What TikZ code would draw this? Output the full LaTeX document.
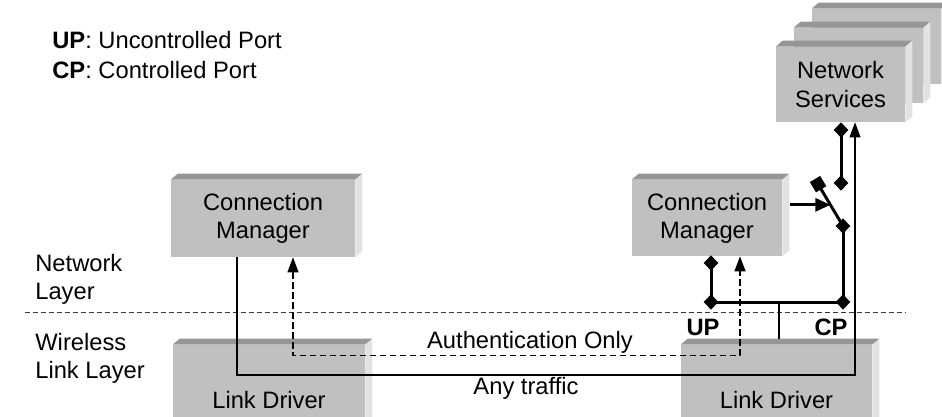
\documentclass[tikz,border=0pt]{standalone}
\usepackage{fontspec}
\setsansfont{Liberation Sans}
\usepackage{tikz}
\usetikzlibrary{arrows.meta, positioning, calc, shapes.geometric}
\definecolor{boxFace}{HTML}{C0C0C0}
\definecolor{boxTop}{HTML}{969696}
\definecolor{boxSide}{HTML}{E2E2E2}
\tikzset{
    box_gray/.style={
        rectangle, fill=boxFace, inner sep=0pt,
        align=center, font=\sffamily\fontsize{13.5}{16}\selectfont
    },
    lbl/.style={
        inner sep=0pt, align=left, font=\sffamily\fontsize{13.5}{16}\selectfont
    },
    port_line/.style={
        line width=1.7pt, draw=black
    },
    port_tip/.style={
        diamond, fill=black, inner sep=0pt, minimum width=0.3cm, minimum height=0.31cm
    },
    traffic_arrow/.style={
        -{Triangle[length=0.3cm, width=0.22cm]}, line width=0.6pt
    },
    auth_arrow/.style={
        {Triangle[length=0.3cm, width=0.22cm]}-{Triangle[length=0.3cm, width=0.22cm]},
        line width=0.7pt, dash pattern=on 0.13cm off 0.07cm
    },
    layer_line/.style={
        line width=0.5pt, draw=black!80, dash pattern=on 0.1cm off 0.06cm
    }
}
% top and right faces of a gray block
\newcommand{\bevel}[1]{%
    \fill[boxTop] (#1.north west) -- ++(7,-6) -- ($(#1.north east)+(7,-6)$) -- (#1.north east) -- cycle;
    \fill[boxSide] (#1.north east) -- ++(7,-6) -- ($(#1.south east)+(7,-6)$) -- (#1.south east) -- cycle;
}

\begin{document}
\begin{tikzpicture}[x=0.02cm, y=-0.02cm, >=Stealth]
    \useasboundingbox (0,0) rectangle (942,416);
    \clip (0,0) rectangle (942,416);

    % legend and layers
    \node[lbl, anchor=west] (legend) at (52,55) {\textbf{UP}: Uncontrolled Port\\[1pt]\textbf{CP}: Controlled Port};
    \node[lbl, anchor=west] (netlayer) at (35,279) {Network\\Layer};
    \node[lbl, anchor=west] (linklayer) at (35,358) {Wireless\\Link Layer};
    \draw[layer_line] (25,312) -- (905,312);

    % blocks
    \node[box_gray, minimum width=2.58cm, minimum height=1.5cm] (ns3) at (876.5,46.5) {};
    \bevel{ns3}
    \node[box_gray, minimum width=2.58cm, minimum height=1.5cm] (ns2) at (858.5,65.5) {};
    \bevel{ns2}
    \node[box_gray, minimum width=2.58cm, minimum height=1.5cm] (ns) at (840.5,84.5) {Network\\Services};
    \bevel{ns}
    \node[box_gray, minimum width=3.68cm, minimum height=1.54cm] (lcm) at (263,218.5) {Connection\\Manager};
    \bevel{lcm}
    \node[box_gray, minimum width=3.0cm, minimum height=1.52cm] (rcm) at (707,218) {Connection\\Manager};
    \bevel{rcm}
    \node[box_gray, minimum width=3.84cm, minimum height=2.2cm] (lld) at (269,400) {Link Driver};
    \bevel{lld}
    \node[box_gray, minimum width=3.82cm, minimum height=2.2cm] (rld) at (776.5,400) {Link Driver};
    \bevel{rld}

    % ports and switch
    \node[port_tip] (upTop) at (711,263) {};
    \node[port_tip] (upJ) at (711,302) {};
    \node[port_tip] (cpJ) at (843,302) {};
    \node[port_tip] (swLo) at (843,226) {};
    \node[port_tip] (nsLo) at (841,183) {};
    \node[port_tip] (nsHi) at (841,130) {};
    \coordinate (swEnd) at (815,179);
    \coordinate (lev) at ($(swLo.center)!0.45!(swEnd)$);
    \coordinate (stem) at ($(upJ.center)!0.515!(cpJ.center)$);

    \draw[port_line] (upTop.center) -- (upJ.center) -- (cpJ.center) -- (swLo.center);
    \draw[port_line] (nsLo.center) -- (nsHi.center);
    \draw[port_line] (stem) -- ($(stem |- rld.north)+(0,-6)$);
    \draw[port_line, -{Square[length=0.24cm, width=0.24cm]}] (swLo.center) -- (swEnd);
    \draw[port_line, -{Triangle[length=0.3cm, width=0.26cm]}] ($(rcm.east |- lev)+(8,0)$) -- (lev);

    \node[lbl, font=\sffamily\bfseries\fontsize{13.5}{16}\selectfont] (uplbl) at (703,327) {UP};
    \node[lbl, font=\sffamily\bfseries\fontsize{13.5}{16}\selectfont] (cplbl) at (831,327) {CP};

    % traffic paths
    \coordinate (anyR) at (855,375);
    \draw[traffic_arrow] ($(lcm.south)+(-26,0)$) |- (anyR) -- (anyR |- ns.south);
    \draw[auth_arrow] ($(lcm.south)+(30,0)$) -- ++(0,98) -| ($(rcm.south)+(33,0)$);
    \node[lbl] (authlbl) at (530,342) {Authentication Only};
    \node[lbl] (anylbl) at (526,388) {Any traffic};
\end{tikzpicture}
\end{document}
